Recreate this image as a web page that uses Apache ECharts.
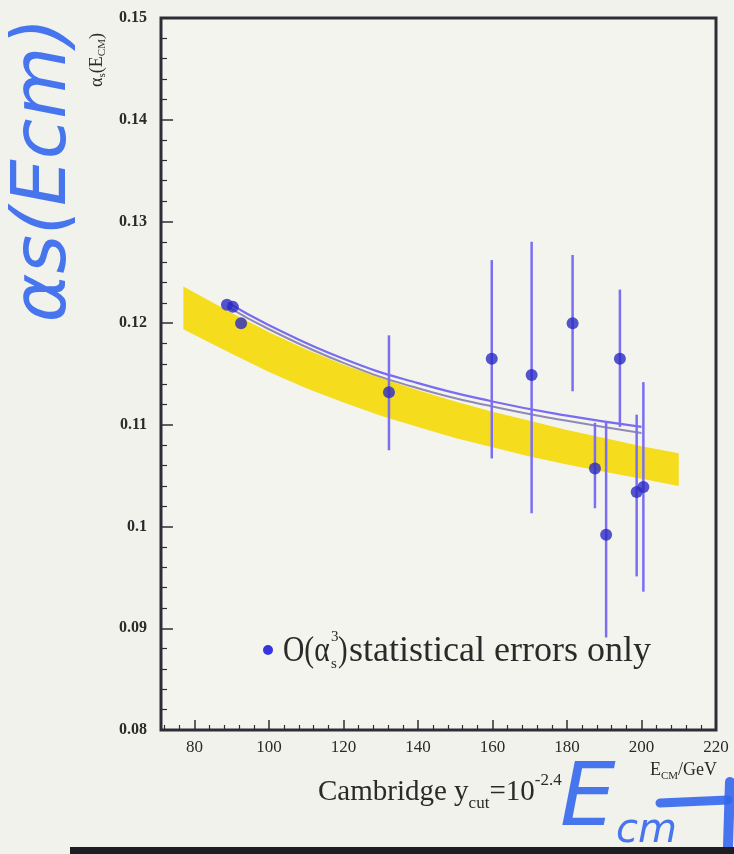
<!DOCTYPE html>
<html>
<head>
<meta charset="utf-8">
<script src="https://cdn.jsdelivr.net/npm/echarts@6/dist/echarts.min.js"></script>
<style>
html,body{margin:0;padding:0;background:#f2f2ec;}
#c{width:734px;height:854px;}
</style>
</head>
<body>
<div id="c"></div>
<script>
// ---- data ----
const energies = [88.7, 90.3, 92.5, 132.2, 159.8, 170.5, 181.5, 187.5, 190.5, 194.2, 198.7, 200.5];
const alphaS   = [0.1218, 0.1216, 0.1200, 0.1132, 0.1165, 0.1149, 0.1200, 0.1057, 0.0992, 0.1165, 0.1034, 0.1039];
const errUp    = [0, 0, 0, 0.0056, 0.0097, 0.0131, 0.0067, 0.0045, 0.0110, 0.0068, 0.0076, 0.0103];
const errDown  = [0, 0, 0, 0.0057, 0.0098, 0.0136, 0.0067, 0.0039, 0.0101, 0.0067, 0.0083, 0.0103];

const bandE     = [77, 84, 90, 100, 110, 120, 130, 140, 150, 160, 170, 180, 190, 200, 210];
const bandUpper = [0.1236, 0.1222, 0.1210, 0.1191, 0.1174, 0.1159, 0.1146, 0.1134, 0.1123, 0.1113, 0.1104, 0.1095, 0.1087, 0.1079, 0.1072];
const bandLower = [0.1194, 0.1181, 0.1170, 0.1152, 0.1136, 0.1122, 0.1109, 0.1098, 0.1087, 0.1078, 0.1069, 0.1061, 0.1054, 0.1047, 0.1040];

const fitE     = [89, 100, 120, 140, 160, 180, 200];
const fitUpper = [0.1220, 0.1198, 0.1165, 0.1141, 0.1123, 0.1109, 0.1098];
const fitLower = [0.1216, 0.1194, 0.1161, 0.1136, 0.1118, 0.1104, 0.1092];

const xTicks      = [80, 100, 120, 140, 160, 180, 200, 220];
const xMinorTicks = [72, 76, 84, 88, 92, 96, 104, 108, 112, 116, 124, 128, 132, 136, 144, 148, 152, 156, 164, 168, 172, 176, 184, 188, 192, 196, 204, 208, 212, 216];

const serif = '"Liberation Serif", "DejaVu Serif", serif';
const ink = '#2e2c36';
const hand = '#3467ee';

const chart = echarts.init(document.getElementById('c'), null, {renderer: 'canvas'});

const option = {
  backgroundColor: '#f2f2ec',
  animation: false,
  grid: {
    left: 161, top: 18, right: 18, bottom: 124,
    show: true, borderColor: ink, borderWidth: 3, backgroundColor: '#f4f4ef'
  },
  xAxis: [{
    type: 'value', min: 71, max: 220, position: 'bottom',
    axisLine: {show: false},
    splitLine: {show: false},
    axisTick: {show: true, inside: true, length: 10, customValues: xTicks, lineStyle: {color: ink, width: 1.5}},
    axisLabel: {customValues: xTicks, margin: 9, fontFamily: serif, fontSize: 17, color: '#2a2a2a'}
  }, {
    type: 'value', min: 71, max: 220, position: 'bottom',
    axisLine: {show: false}, splitLine: {show: false},
    axisTick: {show: true, inside: true, length: 5, customValues: xMinorTicks, lineStyle: {color: ink, width: 1.2}},
    axisLabel: {show: false}
  }],
  yAxis: {
    type: 'value', min: 0.08, max: 0.15, interval: 0.01,
    axisLine: {show: false},
    splitLine: {show: false},
    axisTick: {show: true, inside: true, length: 12, lineStyle: {color: ink, width: 1.5}},
    minorTick: {show: true, splitNumber: 5, length: 6, lineStyle: {color: ink, width: 1.2}},
    axisLabel: {
      margin: 14, fontFamily: serif, fontSize: 16, color: '#2a2a2a', fontWeight: 'bold',
      formatter: v => String(parseFloat(v.toFixed(3)))
    }
  },
  series: [
    {
      type: 'custom', name: 'band', silent: true, z: 1,
      data: bandE.map((e, i) => [e, bandLower[i], bandUpper[i]]),
      encode: {x: 0, y: [1, 2]},
      renderItem: function (params, api) {
        if (params.dataIndex !== 0) return null;
        const pts = [];
        for (let i = 0; i < bandE.length; i++) pts.push(api.coord([bandE[i], bandUpper[i]]));
        for (let i = bandE.length - 1; i >= 0; i--) pts.push(api.coord([bandE[i], bandLower[i]]));
        return {type: 'polygon', shape: {points: pts}, style: {fill: '#f5dc1c'}};
      }
    },
    {
      type: 'line', name: 'fitLower', data: fitE.map((e, i) => [e, fitLower[i]]),
      smooth: true, showSymbol: false, z: 2,
      lineStyle: {color: '#8f89b4', width: 2}
    },
    {
      type: 'line', name: 'fitUpper', data: fitE.map((e, i) => [e, fitUpper[i]]),
      smooth: true, showSymbol: false, z: 3,
      lineStyle: {color: '#7a6cf0', width: 2.2}
    },
    {
      type: 'custom', name: 'errors', z: 4,
      data: energies.map((e, i) => [e, alphaS[i] - errDown[i], alphaS[i] + errUp[i]]),
      encode: {x: 0, y: [1, 2]},
      renderItem: function (params, api) {
        const lo = api.coord([api.value(0), api.value(1)]);
        const hi = api.coord([api.value(0), api.value(2)]);
        return {type: 'line', shape: {x1: lo[0], y1: lo[1], x2: hi[0], y2: hi[1]},
                style: {stroke: '#7b6ef2', lineWidth: 2.5}};
      }
    },
    {
      type: 'scatter', name: 'points', z: 5,
      data: energies.map((e, i) => [e, alphaS[i]]),
      symbolSize: 12,
      itemStyle: {color: '#2b2bc4'}
    }
  ],
  graphic: [
    // legend
    {type: 'circle', shape: {cx: 268, cy: 650, r: 5}, style: {fill: '#3535dd'}},
    {type: 'text', x: 283, y: 652, scaleX: 0.82, style: {text: 'O(α', font: '36px ' + serif, fill: '#2a2a2a', textAlign: 'left', textVerticalAlign: 'middle'}},
    {type: 'text', x: 331, y: 637, style: {text: '3', font: '15px ' + serif, fill: '#2a2a2a', textAlign: 'left', textVerticalAlign: 'middle'}},
    {type: 'text', x: 331, y: 664, style: {text: 's', font: '15px ' + serif, fill: '#2a2a2a', textAlign: 'left', textVerticalAlign: 'middle'}},
    {type: 'text', x: 338, y: 652, scaleX: 0.8, style: {text: ')', font: '36px ' + serif, fill: '#2a2a2a', textAlign: 'left', textVerticalAlign: 'middle'}},
    {type: 'text', x: 349, y: 652, style: {text: 'statistical errors only', font: '36px ' + serif, fill: '#2a2a2a', textAlign: 'left', textVerticalAlign: 'middle'}},
    // x-axis title
    {type: 'text', x: 318, y: 792, style: {
      text: '{m|Cambridge y}{sub|cut}{m|=10}{sup|-2.4}',
      textAlign: 'left', textVerticalAlign: 'middle', fill: '#2a2a2a',
      rich: {
        m: {fontFamily: serif, fontSize: 29, lineHeight: 40, fill: '#2a2a2a', verticalAlign: 'middle'},
        sub: {fontFamily: serif, fontSize: 17, lineHeight: 17, fill: '#2a2a2a', verticalAlign: 'bottom'},
        sup: {fontFamily: serif, fontSize: 17, lineHeight: 17, fill: '#2a2a2a', verticalAlign: 'top'}
      }
    }},
    // E_CM/GeV
    {type: 'text', x: 717, y: 770, style: {
      text: '{m|E}{sub|CM}{m|/GeV}',
      textAlign: 'right', textVerticalAlign: 'middle', fill: '#2a2a2a',
      rich: {
        m: {fontFamily: serif, fontSize: 18, lineHeight: 24, fill: '#2a2a2a', verticalAlign: 'middle'},
        sub: {fontFamily: serif, fontSize: 11, lineHeight: 11, fill: '#2a2a2a', verticalAlign: 'bottom'}
      }
    }},
    // y-axis title
    {type: 'text', x: 97, y: 60, rotation: Math.PI / 2, style: {
      text: '{m|α}{sub|s}{m|(E}{sub|CM}{m|)}',
      textAlign: 'center', textVerticalAlign: 'middle', fill: '#2a2a2a',
      rich: {
        m: {fontFamily: serif, fontSize: 18, lineHeight: 22, fill: '#2a2a2a', verticalAlign: 'middle'},
        sub: {fontFamily: serif, fontSize: 11, lineHeight: 11, fill: '#2a2a2a', verticalAlign: 'bottom'}
      }
    }},
    // handwritten annotations
    {type: 'text', x: 46, y: 170, rotation: Math.PI / 2, style: {
      text: 'αs(Ecm)', font: 'italic 74px "DejaVu Sans", sans-serif', fill: hand, opacity: 0.9,
      textAlign: 'center', textVerticalAlign: 'middle'
    }},
    {type: 'text', x: 560, y: 846, style: {
      text: 'E', font: 'italic 88px "DejaVu Sans", sans-serif', fill: hand, opacity: 0.9,
      textAlign: 'left', textVerticalAlign: 'bottom'
    }},
    {type: 'text', x: 616, y: 852, style: {
      text: 'cm', font: 'italic 40px "DejaVu Sans", sans-serif', fill: hand, opacity: 0.9,
      textAlign: 'left', textVerticalAlign: 'bottom'
    }},
    {type: 'line', shape: {x1: 660, y1: 803, x2: 728, y2: 800}, style: {stroke: hand, lineWidth: 9, opacity: 0.9, lineCap: 'round'}},
    {type: 'line', shape: {x1: 730, y1: 782, x2: 728, y2: 846}, style: {stroke: hand, lineWidth: 10, opacity: 0.9, lineCap: 'round'}},
    // dark strip at the bottom
    {type: 'rect', shape: {x: 70, y: 847, width: 664, height: 7}, style: {fill: '#1e1e22'}}
  ]
};
chart.setOption(option);
</script>
</body>
</html>
